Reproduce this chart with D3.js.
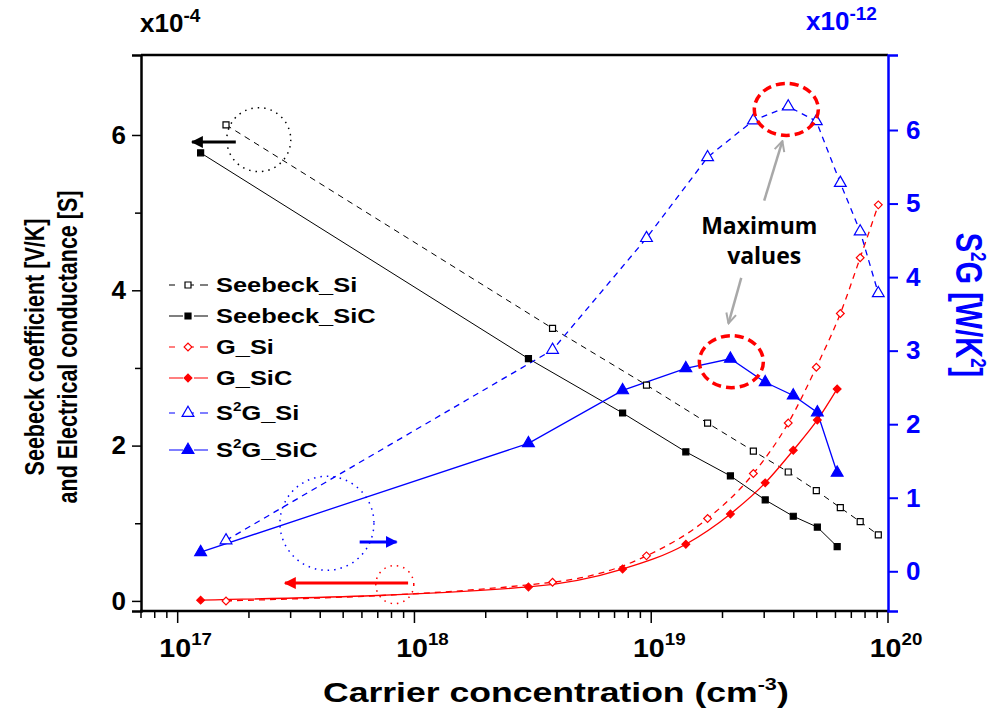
<!DOCTYPE html>
<html>
<head>
<meta charset="utf-8">
<script src="https://cdn.jsdelivr.net/npm/d3@7"></script>
<style>
  body { margin: 0; background: #fff; }
  text { font-family: "Liberation Sans", Arial, sans-serif; }
</style>
</head>
<body>
<div id="chart"></div>
<script>
// carrier concentrations (cm^-3)
var siX  = [1.6e17, 3.83e18, 9.55e18, 1.73e19, 2.7e19, 3.79e19, 4.98e19, 6.29e19, 7.63e19, 9.1e19];
var sicX = [1.25e17, 3.03e18, 7.57e18, 1.4e19, 2.16e19, 3.03e19, 3.98e19, 5.03e19, 6.1e19];

// left axis values, x1e-4
var seebeckSi  = [6.13, 3.51, 2.78, 2.29, 1.93, 1.66, 1.42, 1.20, 1.02, 0.85];
var seebeckSiC = [5.77, 3.12, 2.42, 1.92, 1.61, 1.30, 1.09, 0.95, 0.70];
var gSi  = [0.0, 0.24, 0.58, 1.06, 1.64, 2.29, 3.01, 3.70, 4.42, 5.10];
var gSiC = [0.01, 0.18, 0.41, 0.73, 1.12, 1.52, 1.94, 2.33, 2.73];

// right axis values, x1e-12
var s2gSi  = [0.42, 3.01, 4.53, 5.63, 6.13, 6.32, 6.12, 5.28, 4.62, 3.78];
var s2gSiC = [0.26, 1.74, 2.46, 2.76, 2.89, 2.57, 2.39, 2.16, 1.34];

var leftTicks = [0, 1, 2, 3, 4, 5, 6];
var rightTicks = [0, 1, 2, 3, 4, 5, 6];
var decades = [17, 18, 19, 20];
var legendNames = ["Seebeck_Si", "Seebeck_SiC", "G_Si", "G_SiC", "S2G_Si", "S2G_SiC"];

var width = 1001, height = 716;
var padLeft = 141, padRight = 888, padTop = 55, padBottom = 611;
var blue = "#0000ff", red = "#ff0000";
var stretch = 1.27; // the original figure is widened a bit

var xScale = d3.scaleLog().domain([7e16, 1e20]).range([padLeft, padRight]);
var yLeft = d3.scaleLinear().domain([-0.13, 7.03]).range([padBottom, padTop]);
var yRight = d3.scaleLinear().domain([-0.54, 7.02]).range([padBottom, padTop]);

var svg = d3.select("#chart").append("svg")
  .attr("width", width)
  .attr("height", height);

svg.append("rect")
  .attr("width", width)
  .attr("height", height)
  .attr("fill", "#fff");

// series: [xs, ys, yscale, color, dashed, marker, filled, smooth]
var series = [
  [siX,  seebeckSi,  yLeft,  "#000", true,  "square",   false, false],
  [sicX, seebeckSiC, yLeft,  "#000", false, "square",   true,  false],
  [siX,  gSi,        yLeft,  red,    true,  "diamond",  false, true],
  [sicX, gSiC,       yLeft,  red,    false, "diamond",  true,  true],
  [siX,  s2gSi,      yRight, blue,   true,  "triangle", false, false],
  [sicX, s2gSiC,     yRight, blue,   false, "triangle", true,  false]
];

function symbolFor(name) {
  if (name == "square") return d3.symbol().type(d3.symbolSquare).size(36);
  if (name == "diamond") return d3.symbol().type(d3.symbolSquare).size(30);
  return d3.symbol().type(d3.symbolTriangle).size(60);
}
function rot(name) { return name == "diamond" ? " rotate(45)" : ""; }

var plot = svg.append("g");

series.forEach(function(s) {
  var pts = s[0].map(function(x, i) { return [x, s[1][i]]; });
  var line = d3.line()
    .x(function(d) { return xScale(d[0]); })
    .y(function(d) { return s[2](d[1]); })
    .curve(s[7] ? d3.curveMonotoneX : d3.curveLinear);
  plot.append("path")
    .attr("d", line(pts))
    .attr("fill", "none")
    .attr("stroke", s[3])
    .attr("stroke-width", s[3] == "#000" ? 1 : 1.3)
    .attr("stroke-dasharray", s[4] ? "6,5" : null);
});

series.forEach(function(s) {
  var sym = symbolFor(s[5]);
  s[0].forEach(function(x, i) {
    plot.append("path")
      .attr("d", sym())
      .attr("transform", "translate(" + xScale(x) + "," + s[2](s[1][i]) + ")" + rot(s[5]))
      .attr("fill", s[6] ? s[3] : "#fff")
      .attr("stroke", s[3])
      .attr("stroke-width", 1.2);
  });
});

// frame
svg.append("line")
  .attr("x1", padLeft).attr("x2", padRight)
  .attr("y1", padTop).attr("y2", padTop)
  .attr("stroke", "#000").attr("stroke-width", 2.5);

// bottom axis with log minor ticks
var minorX = [];
[16, 17, 18, 19].forEach(function(p) {
  for (var k = 2; k <= 9; k++) {
    var v = k * Math.pow(10, p);
    if (v >= 7e16 && v < 1e20) minorX.push(v);
  }
});
var xAxisG = svg.append("g")
  .attr("transform", "translate(0," + padBottom + ")");
xAxisG.append("line")
  .attr("x1", padLeft - 1).attr("x2", padRight + 1)
  .attr("stroke", "#000").attr("stroke-width", 2.5);
minorX.forEach(function(v) {
  xAxisG.append("line")
    .attr("x1", xScale(v)).attr("x2", xScale(v))
    .attr("y1", 0).attr("y2", 7)
    .attr("stroke", "#000").attr("stroke-width", 1.5);
});
decades.forEach(function(p) {
  var x = xScale(Math.pow(10, p));
  xAxisG.append("line")
    .attr("x1", x).attr("x2", x)
    .attr("y1", 0).attr("y2", 12)
    .attr("stroke", "#000").attr("stroke-width", 1.5);
  var t = xAxisG.append("text")
    .attr("transform", "translate(" + (x + 8) + ",46) scale(1.1,1)")
    .attr("text-anchor", "middle")
    .style("font-size", "26px")
    .style("font-weight", "bold");
  t.append("tspan").text("10");
  t.append("tspan").attr("dy", -12).style("font-size", "17px").text(p);
});

// left axis
var leftAxis = d3.axisLeft(yLeft)
  .tickValues(leftTicks)
  .tickSize(9)
  .tickFormat(function(d) { return d % 2 == 0 ? d : ""; })
  .tickPadding(6);
var leftG = svg.append("g")
  .attr("transform", "translate(" + padLeft + ",0)")
  .call(leftAxis);
leftG.select(".domain").attr("stroke-width", 2.5);
leftG.selectAll(".tick line").attr("stroke-width", 1.5)
  .attr("x2", function(d) { return d % 2 == 0 ? -9 : -6; });
leftG.selectAll(".tick text")
  .style("font-size", "26px")
  .style("font-weight", "bold")
  .style("font-family", "Liberation Sans, Arial, sans-serif")
  .attr("fill", "#000");

// right axis
var rightAxis = d3.axisRight(yRight)
  .tickValues(rightTicks)
  .tickSize(10)
  .tickPadding(8);
var rightG = svg.append("g")
  .attr("transform", "translate(" + padRight + ",0)")
  .call(rightAxis);
rightG.select(".domain").attr("stroke", blue).attr("stroke-width", 2.5);
rightG.selectAll(".tick line").attr("stroke", blue).attr("stroke-width", 2);
rightG.selectAll(".tick text")
  .style("font-size", "26px")
  .style("font-weight", "bold")
  .style("font-family", "Liberation Sans, Arial, sans-serif")
  .attr("fill", blue);

// axis multipliers
var m1 = svg.append("text")
  .attr("x", 140).attr("y", 32)
  .style("font-size", "26px").style("font-weight", "bold");
m1.append("tspan").text("x10");
m1.append("tspan").attr("dy", -10).style("font-size", "19px").text("-4");

var m2 = svg.append("text")
  .attr("x", 806).attr("y", 30)
  .attr("fill", blue)
  .style("font-size", "26px").style("font-weight", "bold");
m2.append("tspan").text("x10");
m2.append("tspan").attr("dy", -10).style("font-size", "19px").text("-12");

// axis titles
svg.append("text")
  .attr("transform", "translate(44,347) rotate(-90) scale(1," + stretch + ")")
  .attr("text-anchor", "middle")
  .style("font-size", "21.5px").style("font-weight", "bold")
  .text("Seebeck coefficient [V/K]");
svg.append("text")
  .attr("transform", "translate(77,347) rotate(-90) scale(1," + stretch + ")")
  .attr("text-anchor", "middle")
  .style("font-size", "21.5px").style("font-weight", "bold")
  .text("and Electrical conductance [S]");

var rt = svg.append("text")
  .attr("transform", "translate(956,305) rotate(90) scale(1," + stretch + ")")
  .attr("text-anchor", "middle")
  .attr("fill", blue)
  .style("font-size", "29px").style("font-weight", "bold");
rt.append("tspan").text("S");
rt.append("tspan").attr("dy", -12).style("font-size", "17px").text("2");
rt.append("tspan").attr("dy", 12).text("G [W/K");
rt.append("tspan").attr("dy", -12).style("font-size", "17px").text("2");
rt.append("tspan").attr("dy", 12).text("]");

var xt = svg.append("text")
  .attr("transform", "translate(323,702) scale(" + stretch + ",1)")
  .style("font-size", "28px").style("font-weight", "bold");
xt.append("tspan").text("Carrier concentration (cm");
xt.append("tspan").attr("dy", -12).style("font-size", "17px").text("-3");
xt.append("tspan").attr("dy", 12).text(")");

// legend
var legend = svg.append("g");
series.forEach(function(s, i) {
  var y = 285 + i * 31;
  if (i == 4) y = 413;
  if (i == 5) y = 450;
  legend.append("line")
    .attr("x1", 169).attr("x2", 208)
    .attr("y1", y).attr("y2", y)
    .attr("stroke", s[3])
    .attr("stroke-width", 1.2)
    .attr("stroke-dasharray", s[4] ? "6,13,6" : "14,11,14");
  legend.append("path")
    .attr("d", symbolFor(s[5])())
    .attr("transform", "translate(188," + y + ")" + rot(s[5]))
    .attr("fill", s[6] ? s[3] : "#fff")
    .attr("stroke", s[3])
    .attr("stroke-width", 1.2);
  var t = legend.append("text")
    .attr("transform", "translate(216," + (y + 7) + ") scale(" + stretch + ",1)")
    .style("font-size", "20px").style("font-weight", "bold");
  if (legendNames[i].indexOf("S2G") == 0) {
    t.append("tspan").text("S");
    t.append("tspan").attr("dy", -9).style("font-size", "12px").text("2");
    t.append("tspan").attr("dy", 9).text(legendNames[i].slice(2));
  } else {
    t.text(legendNames[i]);
  }
});

// annotations, positioned in data space
var arrowMarker = function(id, color) {
  svg.append("defs").append("marker")
    .attr("id", id)
    .attr("viewBox", "0 0 10 10")
    .attr("refX", 9).attr("refY", 5)
    .attr("markerWidth", 4).attr("markerHeight", 4)
    .attr("orient", "auto")
    .append("path")
    .attr("d", "M0,0 L10,5 L0,10 z")
    .attr("fill", color);
};
arrowMarker("ab", "#000");
arrowMarker("ar", red);
arrowMarker("abl", blue);
svg.append("defs").append("marker")
  .attr("id", "ag")
  .attr("viewBox", "0 0 10 10")
  .attr("refX", 9).attr("refY", 5)
  .attr("markerWidth", 5).attr("markerHeight", 5)
  .attr("orient", "auto")
  .append("path")
  .attr("d", "M1,1 L9,5 L1,9")
  .attr("fill", "none")
  .attr("stroke", "#a8a8a8")
  .attr("stroke-width", 1.6);

// dotted circles: [x, y, scale, r, color]
var dotCircles = [
  [2.2e17, 5.94, yLeft, 32, "#000"],
  [4.27e17, 1.0, yLeft, 47, blue],
  [8.26e17, 0.21, yLeft, 19, red]
];
dotCircles.forEach(function(c) {
  svg.append("circle")
    .attr("cx", xScale(c[0])).attr("cy", c[2](c[1]))
    .attr("r", c[3])
    .attr("fill", "none")
    .attr("stroke", c[4])
    .attr("stroke-width", 1.5)
    .attr("stroke-dasharray", "1.5,5");
});

// arrows: [x1, x2, y, scale, color, marker]
var sideArrows = [
  [1.76e17, 1.15e17, 5.91, yLeft, "#000", "ab"],
  [5.87e17, 8.4e17, 0.76, yLeft, blue, "abl"],
  [9.4e17, 2.84e17, 0.23, yLeft, red, "ar"]
];
sideArrows.forEach(function(a) {
  svg.append("line")
    .attr("x1", xScale(a[0])).attr("x2", xScale(a[1]))
    .attr("y1", a[3](a[2])).attr("y2", a[3](a[2]))
    .attr("stroke", a[4])
    .attr("stroke-width", 3)
    .attr("marker-end", "url(#" + a[5] + ")");
});

// maximum markers on S2G
var maxEllipses = [[3.72e19, 6.28], [2.18e19, 2.85]];
maxEllipses.forEach(function(e) {
  svg.append("ellipse")
    .attr("cx", xScale(e[0])).attr("cy", yRight(e[1]))
    .attr("rx", 32).attr("ry", 26)
    .attr("fill", "none")
    .attr("stroke", red)
    .attr("stroke-width", 3.5)
    .attr("stroke-dasharray", "9,5");
});

var grayArrows = [
  [3.0e19, 5.04, 3.58e19, 5.85],
  [2.4e19, 3.99, 2.12e19, 3.37]
];
grayArrows.forEach(function(a) {
  svg.append("line")
    .attr("x1", xScale(a[0])).attr("y1", yRight(a[1]))
    .attr("x2", xScale(a[2])).attr("y2", yRight(a[3]))
    .attr("stroke", "#a8a8a8")
    .attr("stroke-width", 2.5)
    .attr("marker-end", "url(#ag)");
});

svg.append("text")
  .attr("x", xScale(2.86e19)).attr("y", yRight(4.67) + 6)
  .attr("text-anchor", "middle")
  .style("font-family", "Open Sans, sans-serif")
  .style("font-size", "23px").style("font-weight", "bold")
  .text("Maximum");
svg.append("text")
  .attr("x", xScale(3.0e19)).attr("y", yRight(4.26) + 6)
  .attr("text-anchor", "middle")
  .style("font-family", "Open Sans, sans-serif")
  .style("font-size", "23px").style("font-weight", "bold")
  .text("values");
</script>
</body>
</html>
